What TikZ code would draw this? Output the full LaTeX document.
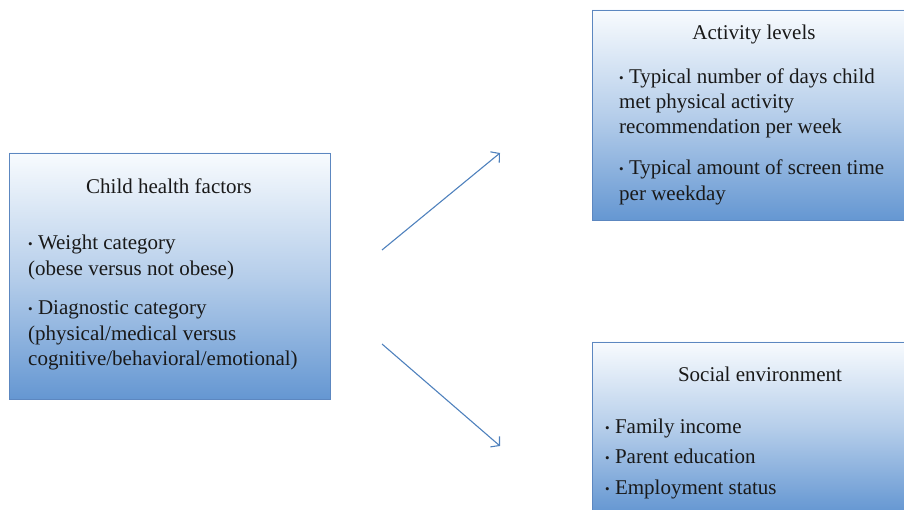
\documentclass[tikz,border=0pt]{standalone}
\usepackage{fontspec}
\setmainfont{Liberation Serif}
\usetikzlibrary{arrows.meta}
\definecolor{boxtop}{RGB}{248,251,254}
\definecolor{boxbot}{RGB}{101,151,210}
\definecolor{boxline}{RGB}{92,135,192}
\definecolor{arrowc}{RGB}{79,129,189}
\newcommand{\bul}{{\fontsize{13}{14}\selectfont\raisebox{1.5pt}{\textbullet}}\ }
\tikzset{
  gbox/.style={draw=boxline, line width=0.9pt, top color=boxtop, bottom color=boxbot, middle color=boxtop!55!boxbot, shading angle=0, rectangle, inner sep=0pt},
  txt/.style={font=\fontsize{21}{25}\selectfont, inner sep=0pt, anchor=base west, text=black!90},
  ttl/.style={font=\fontsize{21}{25}\selectfont, inner sep=0pt, anchor=base, text=black!90},
  flow/.style={draw=arrowc, line width=1.1pt, -{Straight Barb[length=6pt,width=14pt,line width=1.1pt]}}
}
\begin{document}
\begin{tikzpicture}[x=1pt,y=1pt]
\useasboundingbox (0,0) rectangle (904,510);
% boxes
\node[gbox, minimum width=321pt, minimum height=246pt] (left) at (169.5,234) {};
\node[gbox, minimum width=312pt, minimum height=210pt] (act) at (748,395) {};
\node[gbox, minimum width=312pt, minimum height=170pt] (soc) at (748,83) {};
% left texts
\node[ttl] (lt) at (169,316) {Child health factors};
\node[txt] (l1) at (28,260) {\bul Weight category};
\node[txt] (l2) at (28,234) {(obese versus not obese)};
\node[txt] (l3) at (28,195) {\bul Diagnostic category};
\node[txt] (l4) at (28,169) {(physical/medical versus};
\node[txt] (l5) at (28,144) {cognitive/behavioral/emotional)};
% activity texts
\node[ttl] (at) at (754,470) {Activity levels};
\node[txt] (a1) at (619,426) {\bul Typical number of days child};
\node[txt] (a2) at (619,401) {met physical activity};
\node[txt] (a3) at (619,376) {recommendation per week};
\node[txt] (a4) at (619,335) {\bul Typical amount of screen time};
\node[txt] (a5) at (619,309) {per weekday};
% social texts
\node[ttl] (st) at (760,128) {Social environment};
\node[txt] (s1) at (605,76) {\bul Family income};
\node[txt] (s2) at (605,46) {\bul Parent education};
\node[txt] (s3) at (605,15) {\bul Employment status};
% arrows
\coordinate (u0) at (382,260);
\coordinate (u1) at (500,357);
\coordinate (d0) at (382,166);
\coordinate (d1) at (500,64);
\draw[flow] (u0) -- (u1);
\draw[flow] (d0) -- (d1);
\end{tikzpicture}
\end{document}
